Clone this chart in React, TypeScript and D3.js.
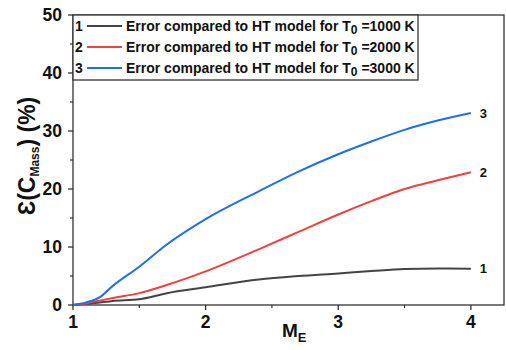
import React from "react";
import * as d3 from "d3";

const mE = [1, 1.1, 1.2, 1.3, 1.5, 1.7, 2.0, 2.4, 2.7, 3.0, 3.25, 3.5, 3.75, 4.0];
const err1000 = [0, 0.2, 0.45, 0.7, 1.0, 2.0, 3.05, 4.4, 5.0, 5.45, 5.85, 6.2, 6.3, 6.25];
const err2000 = [0, 0.3, 0.75, 1.2, 2.05, 3.4, 5.8, 9.6, 12.6, 15.6, 17.9, 20.0, 21.5, 22.9];
const err3000 = [0, 0.45, 1.3, 3.3, 6.6, 10.3, 14.8, 19.6, 23.0, 26.0, 28.2, 30.2, 31.8, 33.1];

const xTicks = [1, 2, 3, 4];
const yTicks = [0, 10, 20, 30, 40, 50];

const series = [
  { id: "1", temp: "1000", values: err1000, color: "#444444" },
  { id: "2", temp: "2000", values: err2000, color: "#f04040" },
  { id: "3", temp: "3000", values: err3000, color: "#1f6fe5" },
];

export default function App() {
  const W = 506, H = 350;
  const left = 73, right = 504, top = 15, bottom = 305;
  const x = d3.scaleLinear().domain([1, 4.25]).range([left, right]);
  const y = d3.scaleLinear().domain([0, 50]).range([bottom, top]);
  const line = d3
    .line<number>()
    .x((_, i) => x(mE[i]))
    .y((d) => y(d))
    .curve(d3.curveMonotoneX);
  const font = "Arial, 'Liberation Sans', sans-serif";
  const xMinor = d3.range(1.5, 4.25, 1);
  const yMinor = d3.range(5, 50, 10);
  return (
    <svg
      width={W}
      height={H}
      style={{ position: "absolute", left: 0, top: 0, background: "#fff" }}
      fontFamily={font}
    >
      {/* frame */}
      <rect x={left} y={top} width={right - left} height={bottom - top} fill="none" stroke="#333" strokeWidth={1.3} />
      {/* y ticks */}
      {yTicks.map((t) => (
        <g key={"y" + t}>
          <line x1={left - 5} x2={left} y1={y(t)} y2={y(t)} stroke="#333" strokeWidth={1.3} />
          <text x={left - 11} y={y(t)} dy="0.36em" textAnchor="end" fontSize={17.5} fontWeight="bold" fill="#111">
            {t}
          </text>
        </g>
      ))}
      {yMinor.map((t) => (
        <line key={"ym" + t} x1={left - 3} x2={left} y1={y(t)} y2={y(t)} stroke="#333" strokeWidth={1.2} />
      ))}
      {/* x ticks */}
      {xTicks.map((t) => (
        <g key={"x" + t}>
          <line x1={x(t)} x2={x(t)} y1={bottom} y2={bottom + 5} stroke="#333" strokeWidth={1.3} />
          <text x={x(t)} y={bottom + 23} textAnchor="middle" fontSize={17.5} fontWeight="bold" fill="#111">
            {t}
          </text>
        </g>
      ))}
      {xMinor.map((t) => (
        <line key={"xm" + t} x1={x(t)} x2={x(t)} y1={bottom} y2={bottom + 3} stroke="#333" strokeWidth={1.2} />
      ))}
      {/* series */}
      {series.map((s) => (
        <g key={s.id}>
          <path d={line(s.values) || ""} fill="none" stroke={s.color} strokeWidth={2} />
          <text
            x={x(4) + 9}
            y={y(s.values[s.values.length - 1])}
            dy="0.36em"
            fontSize={13}
            fontWeight="bold"
            fill="#111"
          >
            {s.id}
          </text>
        </g>
      ))}
      {/* legend */}
      <rect x={left} y={top} width={418 - left} height={80 - top} fill="#fff" stroke="#333" strokeWidth={1.3} />
      {series.map((s, i) => {
        const cy = 26 + i * 21;
        return (
          <g key={"lg" + s.id} fontWeight="bold" fill="#111">
            <text x={75} y={cy} dy="0.36em" fontSize={14}>
              {s.id}
            </text>
            <line x1={87} x2={122} y1={cy} y2={cy} stroke={s.color} strokeWidth={2} />
            <text x={126} y={cy} dy="0.36em" fontSize={14}>
              Error compared to HT model for T
              <tspan fontSize={12} dy="3">0</tspan>
              <tspan dy="-3"> =</tspan>
              {s.temp} K
            </text>
          </g>
        );
      })}
      {/* axis titles */}
      <text x={282} y={337} fontSize={19} fontWeight="bold" fill="#111">
        M<tspan fontSize={13} dy="5">E</tspan>
      </text>
      <text
        transform={`translate(35, 156) rotate(-90)`}
        textAnchor="middle"
        fontSize={23}
        fontWeight="bold"
        fill="#111"
      >
        Ɛ(C<tspan fontSize={12} dy="4">Mass</tspan>
        <tspan dy="-4">) (%)</tspan>
      </text>
    </svg>
  );
}
